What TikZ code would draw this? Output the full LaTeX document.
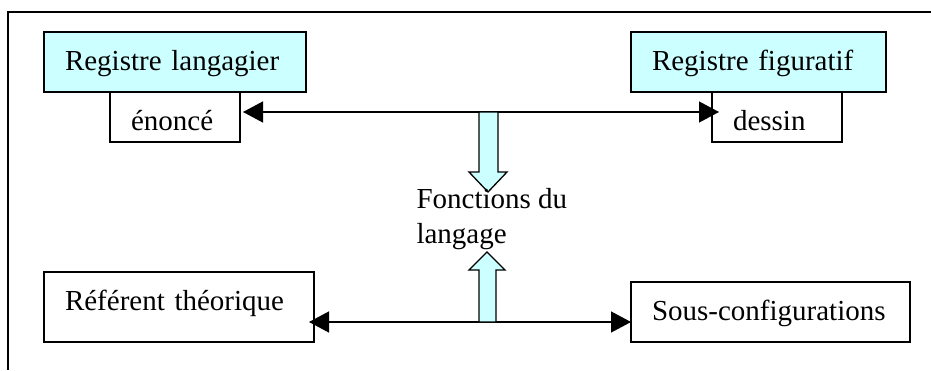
\documentclass[tikz,border=0pt]{standalone}
\usepackage{fontspec}
\setmainfont{Liberation Serif}
\usetikzlibrary{arrows.meta}
\definecolor{pale}{RGB}{204,255,255}
\tikzset{
 x=1pt,y=-1pt,
 box/.style={draw=black,line width=1.3pt,fill=white,rectangle,anchor=north west,outer sep=0pt,
   inner ysep=0pt,inner xsep=21pt,align=left,font=\fontsize{29}{35}\selectfont},
 lbl/.style={inner sep=0pt,outer sep=0pt,anchor=north west,align=left,font=\fontsize{29}{35}\selectfont},
 link/.style={line width=1.3pt,{Triangle[length=20pt,width=21pt]}-{Triangle[length=20pt,width=21pt]}},
 blockarrow/.style={draw=black,line width=1.3pt,fill=pale,line join=miter},
}
\begin{document}
\begin{tikzpicture}
\useasboundingbox (0,0) rectangle (931,370);
\draw[line width=1.3pt] (8,370) -- (8,12) -- (931,12);
\node[box,fill=pale,text width=220pt,text height=38pt,text depth=22pt] (rl) at (44,32) {Registre langagier};
\node[box,text width=88pt,text height=38pt,text depth=12pt] (en) at (110,92) {énoncé};
\node[box,fill=pale,text width=213pt,text height=38pt,text depth=22pt] (rf) at (631,32) {Registre figuratif};
\node[box,text width=88pt,text height=38pt,text depth=12pt] (de) at (712,92) {dessin};
\node[box,text width=228pt,text height=38pt,text depth=32pt] (rt) at (44,272) {Référent théorique};
\node[box,text width=237pt,text height=38pt,text depth=22pt] (sc) at (631,282) {Sous-configurations};
\draw[link] ([shift={(3pt,5pt)}]en.east) -- ([shift={(7pt,5pt)}]de.west);
\draw[link] ([shift={(-5pt,-15pt)}]rt.east) -- ([shift={(0pt,-10pt)}]sc.west);
\draw[blockarrow] (479,112) -- (498,112) -- (498,172) -- (507,172) -- (488,192) -- (469,172) -- (479,172) -- cycle;
\draw[blockarrow] (479,322) -- (496,322) -- (496,270) -- (505,270) -- (487,252) -- (469,270) -- (479,270) -- cycle;
\node[lbl,text height=20pt,text depth=7pt] (fn) at (416.5,223) {Fonctions du\\langage};
\end{tikzpicture}
\end{document}
